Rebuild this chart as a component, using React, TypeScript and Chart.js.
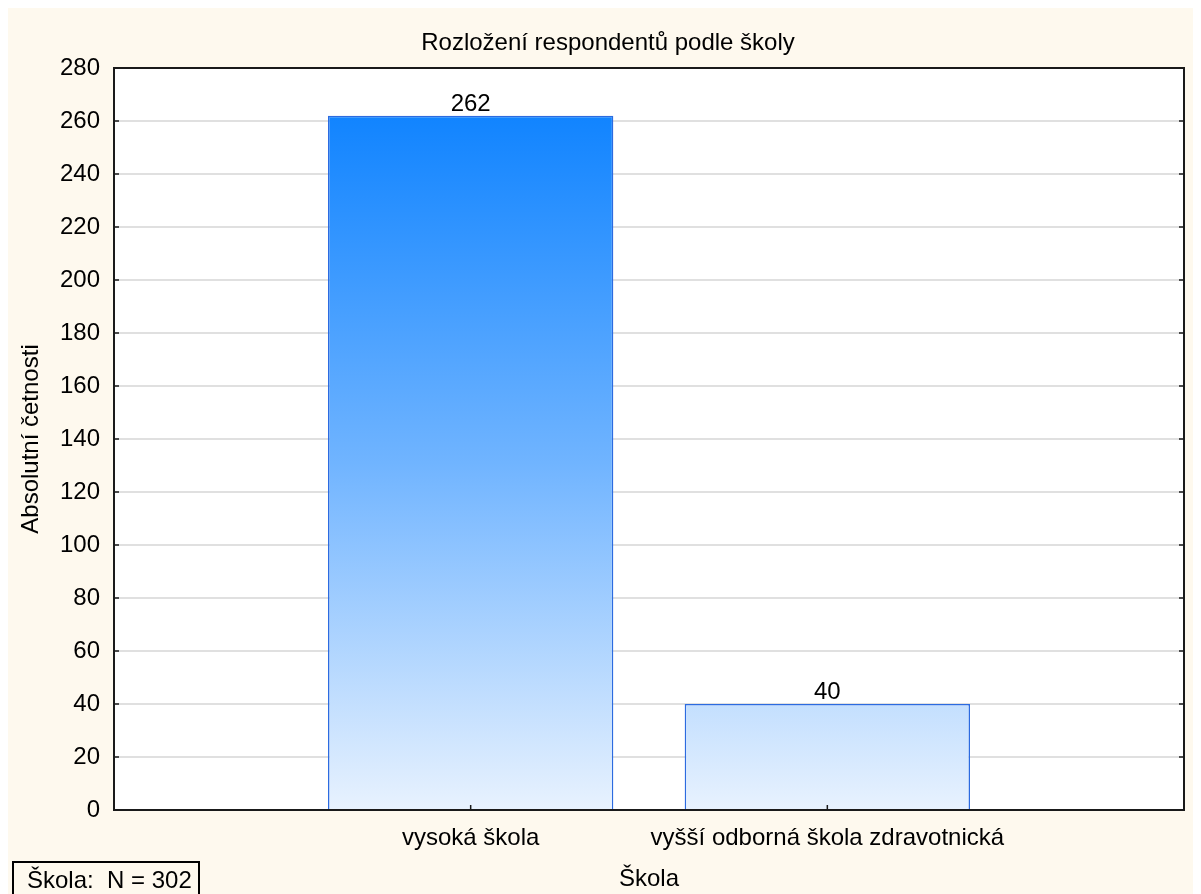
import React, { useEffect, useRef } from "react";
import { Chart, registerables } from "chart.js";

Chart.register(...registerables);

const chartTitle = "Rozložení respondentů podle školy";
const xTitle = "Škola";
const yTitle = "Absolutní četnosti";
const categories = ["", "vysoká škola", "vyšší odborná škola zdravotnická", ""];
const counts: (number | null)[] = [null, 262, 40, null];
const yMin = 0;
const yMax = 280;
const yStep = 20;
const footnote = "Škola:  N = 302";

const FONT = '"Liberation Sans", Arial, sans-serif';

const W = 1201;
const H = 894;

const decor = {
  id: "decor",
  beforeDraw(chart: any) {
    const { ctx, chartArea } = chart;
    ctx.save();
    ctx.fillStyle = "#FEF9EE";
    ctx.fillRect(0, 0, chart.width, chart.height);
    ctx.fillStyle = "#ffffff";
    ctx.fillRect(chartArea.left, chartArea.top, chartArea.right - chartArea.left, chartArea.bottom - chartArea.top);
    // title
    ctx.fillStyle = "#000";
    ctx.font = `24px ${FONT}`;
    ctx.textAlign = "center";
    ctx.textBaseline = "middle";
    ctx.fillText(chartTitle, 600, 35);
    ctx.restore();
  },
  afterDatasetsDraw(chart: any) {
    const { ctx, chartArea } = chart;
    const meta = chart.getDatasetMeta(0);
    ctx.save();
    ctx.fillStyle = "#000";
    ctx.font = `24px ${FONT}`;
    ctx.textAlign = "center";
    ctx.textBaseline = "alphabetic";
    meta.data.forEach((el: any, i: number) => {
      const v = counts[i];
      if (v == null) return;
      ctx.fillText(String(v), el.x, el.y - 5);
    });
    // frame
    ctx.strokeStyle = "#1a1a1a";
    ctx.lineWidth = 2;
    ctx.strokeRect(chartArea.left, chartArea.top, chartArea.right - chartArea.left, chartArea.bottom - chartArea.top);
    // inward ticks
    const ys = chart.scales.y;
    ctx.lineWidth = 1.5;
    ys.ticks.forEach((t: any) => {
      const p = ys.getPixelForValue(t.value);
      ctx.beginPath();
      ctx.moveTo(chartArea.left, p);
      ctx.lineTo(chartArea.left + 5, p);
      ctx.moveTo(chartArea.right, p);
      ctx.lineTo(chartArea.right - 5, p);
      ctx.stroke();
    });
    const xs = chart.scales.x;
    categories.forEach((c, i) => {
      if (!c) return;
      const p = xs.getPixelForValue(i);
      ctx.beginPath();
      ctx.moveTo(p, chartArea.bottom);
      ctx.lineTo(p, chartArea.bottom - 5);
      ctx.stroke();
    });
    // footnote box
    ctx.font = `24px ${FONT}`;
    ctx.textAlign = "left";
    ctx.textBaseline = "alphabetic";
    ctx.fillStyle = "#000";
    ctx.fillText(footnote, 19, 880);
    ctx.lineWidth = 2;
    ctx.strokeStyle = "#000";
    ctx.strokeRect(5, 854, 186, 50);
    ctx.restore();
  },
};

export default function App() {
  const ref = useRef<HTMLCanvasElement | null>(null);
  useEffect(() => {
    document.documentElement.style.overflow = "hidden";
    document.body.style.overflow = "hidden";
    if (!ref.current) return;
    const chart = new Chart(ref.current, {
      type: "bar",
      data: {
        labels: categories,
        datasets: [
          {
            data: counts,
            backgroundColor: (c: any) => {
              const ch = c.chart;
              const { chartArea, ctx } = ch;
              if (!chartArea) return "#4aa0ff";
              const ys = ch.scales.y;
              const top = ys.getPixelForValue(262);
              const bottom = ys.getPixelForValue(0);
              const g = ctx.createLinearGradient(0, top, 0, bottom);
              g.addColorStop(0, "#1184FF");
              g.addColorStop(0.5, "#70B4FF");
              g.addColorStop(1, "#E8F2FE");
              return g;
            },
            borderColor: "#2C6BE0",
            borderWidth: 1.5,
            categoryPercentage: 1,
            barPercentage: 0.8,
          },
        ],
      },
      options: {
        responsive: false,
        animation: false,
        layout: { padding: { top: 60, right: 25, bottom: 0, left: 0 } },
        plugins: {
          legend: { display: false },
          tooltip: { enabled: false },
          title: { display: false },
        },
        scales: {
          x: {
            offset: false,
            grid: { display: false, drawTicks: false },
            border: { display: false },
            ticks: {
              color: "#000",
              font: { family: FONT, size: 24 },
              padding: 14,
              autoSkip: false,
              maxRotation: 0,
              minRotation: 0,
            },
            title: {
              display: true,
              text: xTitle,
              color: "#000",
              font: { family: FONT, size: 24, lineHeight: 1.2 },
              padding: { top: 0, bottom: 8 },
            },
            afterFit: (s: any) => {
              s.height = 92;
            },
          },
          y: {
            min: yMin,
            max: yMax,
            grid: { color: "#e0e0e0", lineWidth: 2, drawTicks: false },
            border: { display: false },
            ticks: {
              stepSize: yStep,
              color: "#000",
              font: { family: FONT, size: 24 },
              padding: 14,
            },
            title: {
              display: true,
              text: yTitle,
              color: "#000",
              font: { family: FONT, size: 24, lineHeight: 1.2 },
              padding: { top: 9, bottom: 0 },
            },
            afterFit: (s: any) => {
              s.width = 106;
            },
          },
        },
      },
      plugins: [decor],
    });
    return () => chart.destroy();
  }, []);
  return (
    <div style={{ width: 1193, height: 886, overflow: "hidden" }}>
      <canvas ref={ref} width={W} height={H} style={{ display: "block", width: W, height: H }} />
    </div>
  );
}
